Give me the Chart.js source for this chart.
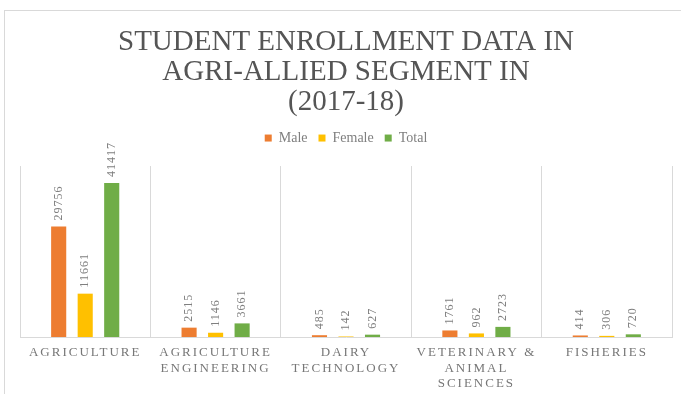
<!DOCTYPE html>
<html>
<head>
<meta charset="utf-8">
<script src="https://cdn.jsdelivr.net/npm/chart.js@4.4.0/dist/chart.umd.min.js"></script>
<style>
  body { margin: 0; background: #fff; }
  #frame { position: absolute; left: 4px; top: 10px; width: 700px; height: 400px; border-left: 1px solid #d9d9d9; border-top: 1px solid #d9d9d9; }
  #wrap { position: absolute; left: 0; top: 0; width: 681px; height: 394px; }
</style>
</head>
<body>
<div id="frame"></div>
<div id="wrap"><canvas id="myChart" width="681" height="394"></canvas></div>
<script>
const categories = [
  "AGRICULTURE",
  ["AGRICULTURE", "ENGINEERING"],
  ["DAIRY", "TECHNOLOGY"],
  ["VETERINARY &", "ANIMAL", "SCIENCES"],
  "FISHERIES"
];
const male = [29756, 2515, 485, 1761, 414];
const female = [11661, 1146, 142, 962, 306];
const total = [41417, 3661, 627, 2723, 720];
const titleLines = ["STUDENT ENROLLMENT DATA IN", "AGRI-ALLIED SEGMENT IN", "(2017-18)"];

const serif = "'Liberation Serif', 'DejaVu Serif', serif";

// value labels above bars, rotated; category names get letter spacing
const barLabels = {
  id: "barLabels",
  beforeInit(chart) {
    // extra room under the legend
    const fit = chart.legend.fit;
    chart.legend.fit = function () {
      fit.call(this);
      this.height += 11;
    };
  },
  afterDatasetsDraw(chart) {
    const ctx = chart.ctx;
    ctx.save();
    ctx.font = "12px " + serif;
    ctx.letterSpacing = "1px";
    ctx.fillStyle = "#7f7f7f";
    ctx.textAlign = "left";
    ctx.textBaseline = "middle";
    chart.data.datasets.forEach((ds, i) => {
      chart.getDatasetMeta(i).data.forEach((bar, j) => {
        ctx.save();
        ctx.translate(bar.x, bar.y - 6);
        ctx.rotate(-Math.PI / 2);
        ctx.fillText(String(ds.data[j]), 0, 0);
        ctx.restore();
      });
    });
    ctx.restore();
    ctx.letterSpacing = "2px";
  },
  afterDraw(chart) {
    chart.ctx.letterSpacing = "0px";
  }
};

new Chart(document.getElementById("myChart").getContext("2d"), {
  type: "bar",
  data: {
    labels: categories,
    datasets: [
      { label: "Male", data: male, backgroundColor: "#ED7D31" },
      { label: "Female", data: female, backgroundColor: "#FFC000" },
      { label: "Total", data: total, backgroundColor: "#70AD47" }
    ]
  },
  options: {
    responsive: false,
    animation: false,
    categoryPercentage: 0.61,
    barPercentage: 0.57,
    layout: { padding: { left: 20, right: 9, top: 10, bottom: 0 } },
    plugins: {
      title: {
        display: true,
        text: titleLines,
        color: "#555555",
        font: { family: serif, size: 29, weight: "normal", lineHeight: 1.035 },
        padding: { top: 17, bottom: 3 }
      },
      legend: {
        position: "top",
        labels: {
          color: "#7f7f7f",
          font: { family: serif, size: 14 },
          boxWidth: 7,
          boxHeight: 7,
          padding: 11
        }
      },
      tooltip: { enabled: false }
    },
    scales: {
      x: {
        grid: { offset: true, color: "#d9d9d9", drawTicks: false },
        border: { color: "#d9d9d9" },
        afterFit(scale) { scale.height = 57; },
        ticks: {
          z: 1,
          color: "#777777",
          font: { family: serif, size: 13 },
          padding: 8,
          maxRotation: 0,
          autoSkip: false
        }
      },
      y: {
        display: false,
        min: 0,
        max: 46000
      }
    }
  },
  plugins: [barLabels]
});
</script>
</body>
</html>
